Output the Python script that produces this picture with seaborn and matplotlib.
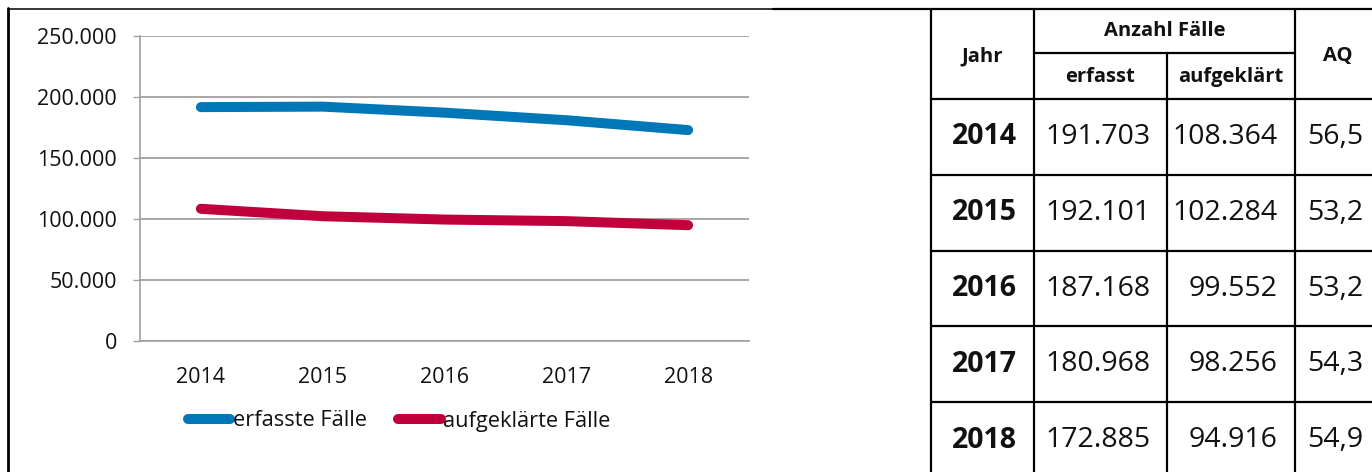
import pandas as pd
import matplotlib.pyplot as plt
import seaborn as sns
from matplotlib.lines import Line2D
from matplotlib.ticker import FuncFormatter

# Daten
jahre = ['2014', '2015', '2016', '2017', '2018']
erfasst = [191703, 192101, 187168, 180968, 172885]
aufgeklaert = [108364, 102284, 99552, 98256, 94916]
aq = [56.5, 53.2, 53.2, 54.3, 54.9]
reihen = ['erfasste Fälle', 'aufgeklärte Fälle']
farben = ['#0077B6', '#C0003C']
y_ticks = [0, 50000, 100000, 150000, 200000, 250000]
kopf = ['Jahr', 'Anzahl Fälle', 'erfasst', 'aufgeklärt', 'AQ']


def de_zahl(v):
    return f'{int(v):,}'.replace(',', '.')


def de_quote(v):
    return f'{v:.1f}'.replace('.', ',')


df = pd.DataFrame({
    'Jahr': jahre * 2,
    'Fälle': erfasst + aufgeklaert,
    'Reihe': [reihen[0]] * len(jahre) + [reihen[1]] * len(jahre),
})

sns.set_style('white')
plt.rcParams['font.family'] = ['Open Sans', 'DejaVu Sans']
plt.rcParams['text.color'] = '#111111'
plt.rcParams['xtick.labelcolor'] = '#111111'
plt.rcParams['ytick.labelcolor'] = '#111111'

W, H = 1372, 472
fig = plt.figure(figsize=(W / 100, H / 100), dpi=100)

# Liniendiagramm
ax = fig.add_axes([140 / W, 1 - 341 / H, 609 / W, 305 / H])
grau = '#A0A0A0'
sns.lineplot(data=df, x='Jahr', y='Fälle', hue='Reihe', palette=farben,
             linewidth=7.2, solid_capstyle='round', sort=False, ax=ax, legend=False)
ax.set_xlim(-0.5, len(jahre) - 0.5)
ax.set_ylim(0, 250000)
ax.set_yticks(y_ticks)
ax.yaxis.set_major_formatter(FuncFormatter(lambda v, p: de_zahl(v)))
ax.set_xticks(range(len(jahre)))
ax.set_xticklabels(jahre)
ax.set_xticks([i - 0.5 for i in range(len(jahre) + 1)], minor=True)
ax.tick_params(axis='x', which='major', length=0, pad=18.5, labelsize=15.5)
ax.tick_params(axis='x', which='minor', length=5, width=1, color=grau, direction='out')
ax.tick_params(axis='y', length=5, width=1, color=grau, pad=11.5, labelsize=15.5, left=True)
ax.set_xlabel('')
ax.set_ylabel('')
ax.yaxis.grid(True, color=grau, linewidth=1.3)
ax.set_axisbelow(True)
for s in ['top', 'right']:
    ax.spines[s].set_visible(False)
for s in ['left', 'bottom']:
    ax.spines[s].set_color(grau)
    ax.spines[s].set_linewidth(1.2)

handles = [Line2D([], [], color=c, lw=7.2, solid_capstyle='round') for c in farben]
fig.legend(handles, reihen, loc='center', bbox_to_anchor=(399 / W, 1 - 421 / H),
           bbox_transform=fig.transFigure, ncol=2, frameon=False, fontsize=15.7,
           handlelength=1.95, handletextpad=0.1, columnspacing=1.45)

# Rahmen und Tabelle
tab = fig.add_axes([0, 0, 1, 1], zorder=-1)
tab.set_xlim(0, W)
tab.set_ylim(H, 0)
tab.axis('off')

tab.plot([8, 773], [8.5, 8.5], color='black', lw=1.1)
tab.plot([8, 8], [8, H], color='black', lw=2)

spalten = [931, 1034, 1167, 1295, 1380]
zeilen = [9] + [99 + 75.8 * i for i in range(len(jahre) + 1)]
lw_t = 1.6
tab.plot([773, W], [9, 9], color='black', lw=lw_t)
for x in [spalten[0], spalten[1], spalten[3]]:
    tab.plot([x, x], [9, H], color='black', lw=lw_t)
tab.plot([spalten[2], spalten[2]], [53, H], color='black', lw=lw_t)
tab.plot([spalten[1], spalten[3]], [53, 53], color='black', lw=lw_t)
for y in zeilen[1:]:
    tab.plot([spalten[0], W], [y, y], color='black', lw=lw_t)

kw_kopf = dict(fontsize=14.5, fontweight='bold', ha='center', va='center')
tab.text((spalten[0] + spalten[1]) / 2, 56, kopf[0], **kw_kopf)
tab.text((spalten[1] + spalten[3]) / 2, 31, kopf[1], **kw_kopf)
tab.text((spalten[1] + spalten[2]) / 2, 77, kopf[2], **kw_kopf)
tab.text((spalten[2] + spalten[3]) / 2, 77, kopf[3], **kw_kopf)
tab.text((spalten[3] + spalten[4]) / 2, 56, kopf[4], **kw_kopf)

for i, j in enumerate(jahre):
    yc = (zeilen[i + 1] + zeilen[i + 2]) / 2
    tab.text(spalten[1] - 17, yc, j, fontsize=20.5, fontweight='bold', ha='right', va='center')
    tab.text(spalten[2] - 16, yc, de_zahl(erfasst[i]), fontsize=20.5, ha='right', va='center')
    tab.text(spalten[3] - 17, yc, de_zahl(aufgeklaert[i]), fontsize=20.5, ha='right', va='center')
    tab.text(spalten[4] - 17, yc, de_quote(aq[i]), fontsize=20.5, ha='right', va='center')

fig.savefig('out.png', dpi=100)
